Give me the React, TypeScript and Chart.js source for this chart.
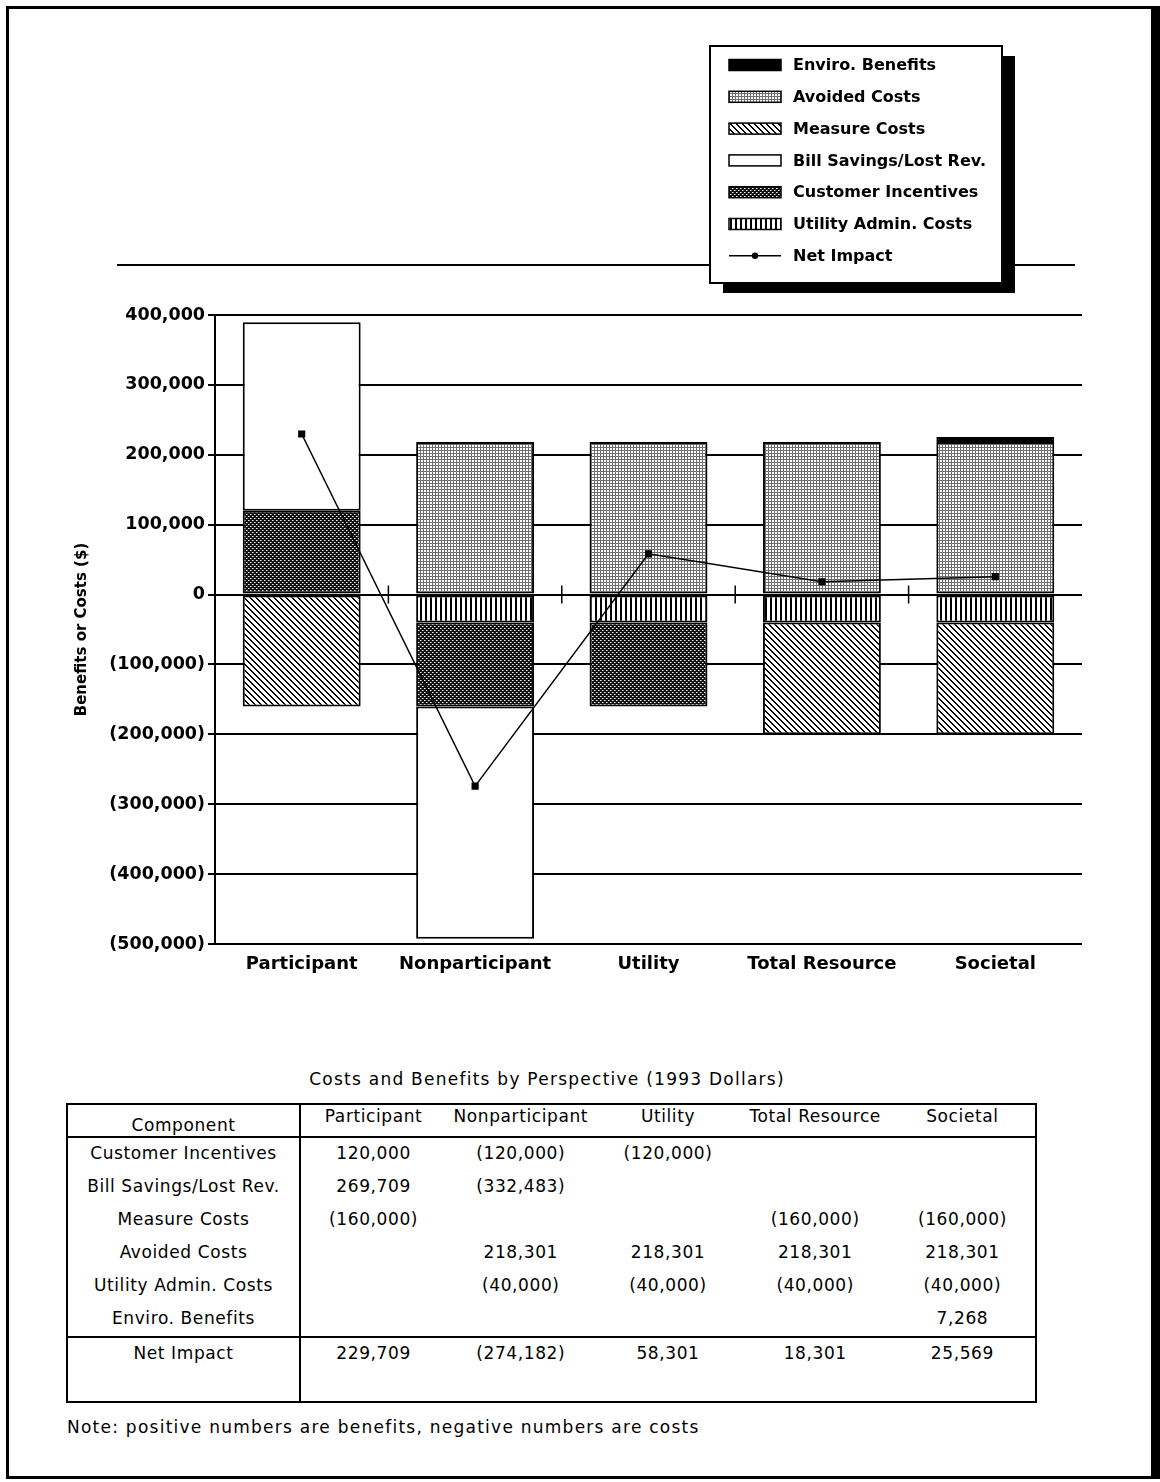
import { useEffect, useRef } from "react";
import { Chart, registerables } from "chart.js";

Chart.register(...registerables);

// Perspectives (categories) and the cost/benefit components for each
const perspectives = ["Participant", "Nonparticipant", "Utility", "Total Resource", "Societal"];
const customerIncentives = [120000, -120000, -120000, null, null];
const billSavings = [269709, -332483, null, null, null];
const measureCosts = [-160000, null, null, -160000, -160000];
const avoidedCosts = [null, 218301, 218301, 218301, 218301];
const adminCosts = [null, -40000, -40000, -40000, -40000];
const enviroBenefits = [null, null, null, null, 7268];
const netImpact = [229709, -274182, 58301, 18301, 25569];

const yMin = -500000;
const yMax = 400000;
const yStep = 100000;

const tableTitle = "Costs and Benefits by Perspective (1993 Dollars)";
const tableNote = "Note: positive numbers are benefits, negative numbers are costs";

const componentRows: [string, (number | null)[]][] = [
  ["Customer Incentives", customerIncentives],
  ["Bill Savings/Lost Rev.", billSavings],
  ["Measure Costs", measureCosts],
  ["Avoided Costs", avoidedCosts],
  ["Utility Admin. Costs", adminCosts],
  ["Enviro. Benefits", enviroBenefits],
];

const fmtMoney = (v: number | null) => {
  if (v === null || v === undefined) return "";
  const s = Math.abs(v).toLocaleString("en-US");
  return v < 0 ? `(${s})` : s;
};

function makePattern(w: number, h: number, paint: (g: CanvasRenderingContext2D) => void) {
  const c = document.createElement("canvas");
  c.width = w;
  c.height = h;
  const g = c.getContext("2d")!;
  paint(g);
  return g.createPattern(c, "repeat")!;
}

function buildFills() {
  const avoided = makePattern(3, 3, (g) => {
    g.fillStyle = "#fff";
    g.fillRect(0, 0, 3, 3);
    g.fillStyle = "#6e6e6e";
    g.fillRect(0, 0, 3, 1);
    g.fillRect(0, 0, 1, 3);
  });
  const measure = makePattern(6, 6, (g) => {
    g.fillStyle = "#fff";
    g.fillRect(0, 0, 6, 6);
    g.fillStyle = "#000";
    for (let y = 0; y < 6; y++)
      for (let x = 0; x < 6; x++) if ((x - y + 12) % 6 < 2) g.fillRect(x, y, 1, 1);
  });
  const incentives = makePattern(4, 4, (g) => {
    g.fillStyle = "#111";
    g.fillRect(0, 0, 4, 4);
    g.fillStyle = "#fff";
    g.fillRect(0, 0, 1, 1);
    g.fillRect(2, 2, 1, 1);
    g.fillStyle = "#888";
    g.fillRect(1, 0, 1, 1);
    g.fillRect(3, 2, 1, 1);
  });
  const admin = makePattern(5, 1, (g) => {
    g.fillStyle = "#fff";
    g.fillRect(0, 0, 5, 1);
    g.fillStyle = "#000";
    g.fillRect(0, 0, 2, 1);
  });
  return { avoided, measure, incentives, admin };
}

const FONT = "'DejaVu Sans', sans-serif";

// Zero-line ticks at category boundaries, the rule across the top and the boxed legend
const decorPlugin = {
  id: "decor",
  afterDraw(chart: any) {
    const { ctx } = chart;
    const xs = chart.scales.x;
    const ys = chart.scales.y;
    ctx.save();

    const y0 = ys.getPixelForValue(0);
    ctx.strokeStyle = "#000";
    ctx.lineWidth = 1.5;
    for (let i = 0; i < perspectives.length - 1; i++) {
      const x = (xs.getPixelForValue(i) + xs.getPixelForValue(i + 1)) / 2;
      ctx.beginPath();
      ctx.moveTo(x, y0 - 9);
      ctx.lineTo(x, y0 + 9);
      ctx.stroke();
    }

    ctx.lineWidth = 2;
    ctx.beginPath();
    ctx.moveTo(117, 265);
    ctx.lineTo(1075, 265);
    ctx.stroke();

    // legend box with drop shadow
    const bx = 710, by = 46, bw = 292, bh = 237;
    ctx.fillStyle = "#000";
    ctx.fillRect(bx + 13, by + 10, bw, bh);
    ctx.fillStyle = "#fff";
    ctx.fillRect(bx, by, bw, bh);
    ctx.lineWidth = 2;
    ctx.strokeRect(bx, by, bw, bh);

    const ds = chart.data.datasets;
    const bars = ds.filter((d: any) => d.type !== "line").slice().reverse();
    const line = ds.find((d: any) => d.type === "line");
    const items = [...bars, line];
    ctx.font = `bold 16px ${FONT}`;
    ctx.textBaseline = "middle";
    ctx.textAlign = "left";
    items.forEach((d: any, i: number) => {
      const cy = 65 + i * 31.8;
      if (d.type === "line") {
        ctx.strokeStyle = "#000";
        ctx.lineWidth = 1.5;
        ctx.beginPath();
        ctx.moveTo(729, cy);
        ctx.lineTo(781, cy);
        ctx.stroke();
        ctx.fillStyle = "#000";
        ctx.beginPath();
        ctx.arc(755, cy, 3.2, 0, Math.PI * 2);
        ctx.fill();
      } else {
        ctx.fillStyle = d.backgroundColor;
        ctx.fillRect(729, cy - 5.5, 52, 11);
        ctx.strokeStyle = "#000";
        ctx.lineWidth = 1.5;
        ctx.strokeRect(729, cy - 5.5, 52, 11);
      }
      ctx.fillStyle = "#000";
      ctx.fillText(d.label, 793, cy + 1);
    });
    ctx.restore();
  },
};

export default function App() {
  const ref = useRef<HTMLCanvasElement>(null);

  useEffect(() => {
    if (!ref.current) return;
    const f = buildFills();
    const barBase = {
      type: "bar" as const,
      borderColor: "#000",
      borderWidth: 2,
      borderSkipped: false as const,
      order: 1,
      stack: "components",
    };
    const chart = new Chart(ref.current, {
      type: "bar",
      data: {
        labels: perspectives,
        datasets: [
          { ...barBase, label: "Utility Admin. Costs", data: adminCosts, backgroundColor: f.admin },
          { ...barBase, label: "Customer Incentives", data: customerIncentives, backgroundColor: f.incentives },
          { ...barBase, label: "Bill Savings/Lost Rev.", data: billSavings, backgroundColor: "#fff" },
          { ...barBase, label: "Measure Costs", data: measureCosts, backgroundColor: f.measure },
          { ...barBase, label: "Avoided Costs", data: avoidedCosts, backgroundColor: f.avoided },
          { ...barBase, label: "Enviro. Benefits", data: enviroBenefits, backgroundColor: "#000" },
          {
            type: "line",
            label: "Net Impact",
            data: netImpact,
            borderColor: "#000",
            backgroundColor: "#000",
            borderWidth: 1.5,
            pointStyle: "rect",
            pointRadius: 4,
            pointBackgroundColor: "#000",
            order: 0,
            stack: "net",
            tension: 0,
          } as any,
        ] as any,
      },
      options: {
        responsive: false,
        animation: false,
        layout: { padding: { left: 69, top: 315, right: 78, bottom: 0 } },
        datasets: { bar: { categoryPercentage: 1, barPercentage: 0.68 } },
        plugins: { legend: { display: false }, tooltip: { enabled: false } },
        scales: {
          x: {
            stacked: true,
            grid: { display: false, drawTicks: false },
            border: { display: false },
            ticks: {
              color: "#000",
              font: { family: FONT, size: 18, weight: "bold" },
              padding: 10,
              maxRotation: 0,
              autoSkip: false,
            },
            afterFit: (s: any) => {
              s.height = 56;
            },
          },
          y: {
            stacked: true,
            min: yMin,
            max: yMax,
            ticks: {
              stepSize: yStep,
              color: "#000",
              padding: 3,
              font: { family: FONT, size: 17.5, weight: "bold" },
              callback: (v: any) => fmtMoney(Number(v)),
            },
            grid: { color: "#000", lineWidth: 2, tickLength: 7 },
            border: { display: true, color: "#000", width: 2 },
            title: {
              display: true,
              text: "Benefits or Costs ($)",
              color: "#000",
              font: { family: FONT, size: 15, weight: "bold" },
            },
            afterFit: (s: any) => {
              s.width = 146;
            },
          },
        },
      },
      plugins: [decorPlugin],
    });
    return () => chart.destroy();
  }, []);

  const tFont = "'DejaVu Sans', sans-serif";
  const colLeft = 300;
  const colW = 147.2;
  const rowTop = 1137;
  const rowH = 33;
  const cellText = { fontFamily: tFont, fontSize: 17, letterSpacing: 0.6, color: "#000" };
  const wideText = { fontFamily: tFont, fontSize: 17, letterSpacing: 1.25, color: "#000" };

  const cell = (key: string, text: string, left: number, top: number, width: number) => (
    <div
      key={key}
      style={{
        position: "absolute",
        left,
        top,
        width,
        height: rowH,
        lineHeight: `${rowH}px`,
        textAlign: "center",
        whiteSpace: "nowrap",
        ...cellText,
      }}
    >
      {text}
    </div>
  );

  const cells: any[] = [];
  cells.push(cell("h-comp", "Component", 67, 1109, 233));
  perspectives.forEach((p, i) => cells.push(cell(`h-${i}`, p, colLeft + i * colW, 1100, colW)));
  componentRows.forEach(([name, vals], r) => {
    const top = rowTop + r * rowH;
    cells.push(cell(`n-${r}`, name, 67, top, 233));
    vals.forEach((v, i) => cells.push(cell(`v-${r}-${i}`, fmtMoney(v), colLeft + i * colW, top, colW)));
  });
  const netTop = 1337;
  cells.push(cell("n-net", "Net Impact", 67, netTop, 233));
  netImpact.forEach((v, i) => cells.push(cell(`net-${i}`, fmtMoney(v), colLeft + i * colW, netTop, colW)));

  return (
    <div style={{ position: "absolute", left: 0, top: 0, width: 1160, height: 1482, background: "#fff" }}>
      <div
        style={{
          position: "absolute",
          left: 6,
          top: 6,
          width: 1154,
          height: 1473,
          boxSizing: "border-box",
          borderLeft: "3px solid #000",
          borderTop: "3px solid #000",
          borderBottom: "3px solid #000",
          borderRight: "9px solid #000",
        }}
      />
      <canvas ref={ref} width={1160} height={1000} style={{ position: "absolute", left: 0, top: 0 }} />

      <div
        style={{
          position: "absolute",
          left: 67,
          top: 1069,
          width: 960,
          textAlign: "center",
          whiteSpace: "nowrap",
          ...wideText,
        }}
      >
        {tableTitle}
      </div>
      <div
        style={{
          position: "absolute",
          left: 66,
          top: 1103,
          width: 971,
          height: 300,
          boxSizing: "border-box",
          border: "2px solid #000",
        }}
      />
      <div style={{ position: "absolute", left: 66, top: 1136, width: 971, height: 2, background: "#000" }} />
      <div style={{ position: "absolute", left: 66, top: 1336, width: 971, height: 2, background: "#000" }} />
      <div style={{ position: "absolute", left: 299, top: 1103, width: 2, height: 300, background: "#000" }} />
      {cells}
      <div
        style={{
          position: "absolute",
          left: 67,
          top: 1417,
          whiteSpace: "nowrap",
          ...wideText,
        }}
      >
        {tableNote}
      </div>
    </div>
  );
}
